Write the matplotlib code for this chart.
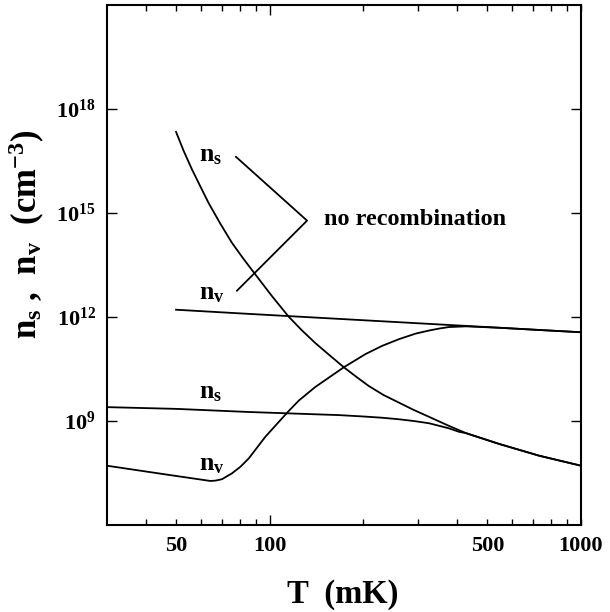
import numpy as np
import matplotlib
matplotlib.use("Agg")
import matplotlib.pyplot as plt
from matplotlib.ticker import NullLocator, FixedLocator

plt.rcParams['font.family'] = ['Liberation Serif', 'DejaVu Serif']
plt.rcParams['font.weight'] = 'bold'
plt.rcParams['mathtext.fontset'] = 'custom'
plt.rcParams['mathtext.rm'] = 'Liberation Serif:bold'
plt.rcParams['mathtext.it'] = 'Liberation Serif:bold'
plt.rcParams['mathtext.bf'] = 'Liberation Serif:bold'

# ---- data ----
# n_s, no recombination
T_ns_norec = [50, 52.9, 56.3, 59.9, 63.6, 69.4, 75.6, 82.3, 89.5, 101.5, 115, 126.7, 140,
              156, 173, 190, 208, 232, 260, 290, 325, 372, 427, 545, 733, 1000]
log_ns_norec = [17.34, 16.79, 16.25, 15.76, 15.29, 14.69, 14.14, 13.68, 13.25, 12.61, 12.01,
                11.62, 11.25, 10.89, 10.55, 10.27, 10.01, 9.75, 9.53, 9.32, 9.12, 8.88,
                8.65, 8.34, 8.00, 7.71]
# n_v, no recombination
T_nv_norec = [50, 85.6, 260, 1000]
log_nv_norec = [12.21, 12.09, 11.85, 11.56]
# n_s, with recombination
T_ns_rec = [30, 50, 85.6, 115, 167, 200, 229, 260, 290, 325, 376, 405, 427, 545, 733, 1000]
log_ns_rec = [9.40, 9.35, 9.26, 9.22, 9.17, 9.13, 9.095, 9.05, 9.00, 8.935, 8.79, 8.69,
              8.65, 8.34, 8.00, 7.71]
# n_v, with recombination
T_nv_rec = [30, 46.2, 64.5, 66.9, 70.2, 75.6, 80.5, 85.6, 96.9, 114, 124, 140, 173, 203,
            230, 260, 294, 325, 352, 376, 427, 545, 733, 1000]
log_nv_rec = [7.71, 7.46, 7.27, 7.28, 7.32, 7.49, 7.68, 7.92, 8.55, 9.25, 9.59, 9.98, 10.55,
              10.93, 11.17, 11.36, 11.52, 11.61, 11.67, 11.71, 11.73, 11.69, 11.625, 11.56]
# bracket for "no recombination"
T_bracket = [77.9, 131.8, 78.5]
log_bracket = [16.62, 14.78, 12.76]

x_tick_vals = [50, 100, 500, 1000]
x_tick_labels = ['50', '100', '500', '1000']
x_minor_vals = [40, 60, 70, 80, 90, 200, 300, 400, 600, 700, 800, 900]
y_tick_exps = [9, 12, 15, 18]

fig = plt.figure(figsize=(6.10, 6.12), dpi=100)
ax = fig.add_axes([107/610, 1-525/612, (581-107)/610, 520/612])

lw = 1.3
for T, lg in [(T_ns_norec, log_ns_norec), (T_nv_norec, log_nv_norec),
              (T_ns_rec, log_ns_rec), (T_nv_rec, log_nv_rec), (T_bracket, log_bracket)]:
    ax.plot(T, 10.0**np.array(lg), color='black', lw=lw, solid_joinstyle='round')

ax.set_xscale('log')
ax.set_yscale('log')
ax.set_xlim(30, 1000)
ax.set_ylim(1e6, 1e21)

ax.xaxis.set_major_locator(FixedLocator(x_tick_vals))
ax.set_xticklabels(x_tick_labels)
ax.xaxis.set_minor_locator(FixedLocator(x_minor_vals))
ax.yaxis.set_major_locator(FixedLocator([10.0**e for e in y_tick_exps]))
ax.set_yticklabels([r'$\mathbf{10^{%d}}$' % e for e in y_tick_exps])
ax.yaxis.set_minor_locator(NullLocator())

ax.tick_params(which='both', direction='in', top=True, right=True, width=1.0,
               labelsize=16, pad=8)
ax.tick_params(axis='x', which='major', length=4)
ax.tick_params(axis='x', which='minor', length=4)
ax.tick_params(axis='y', which='major', length=7)
for t in ax.xaxis.get_major_ticks():
    if abs(t.get_loc() - 100) < 1e-6:
        t.tick1line.set_markersize(7)
        t.tick2line.set_markersize(7)
for lab in ax.get_xticklabels() + ax.get_yticklabels():
    lab.set_fontweight('bold')
for s in ax.spines.values():
    s.set_linewidth(1.5)

fs_lab = 18.5
ax.text(59.1, 10**16.48, r'n$_\mathrm{s}$', fontsize=fs_lab, fontweight='bold', va='baseline', ha='left')
ax.text(59.1, 10**12.50, r'n$_\mathrm{v}$', fontsize=fs_lab, fontweight='bold', va='baseline', ha='left')
ax.text(59.1, 10**9.66, r'n$_\mathrm{s}$', fontsize=fs_lab, fontweight='bold', va='baseline', ha='left')
ax.text(59.1, 10**7.58, r'n$_\mathrm{v}$', fontsize=fs_lab, fontweight='bold', va='baseline', ha='left')
ax.text(149.1, 10**14.66, 'no recombination', fontsize=17.5, fontweight='bold', va='baseline', ha='left')

fig.text(343/610, 1-595/612, 'T  (mK)', fontsize=23.5, fontweight='bold', ha='center', va='center')
fig.text(27/610, 1-234/612, r'n$_\mathrm{s}$ ,  n$_\mathrm{v}$  (cm$^{-3}$)', fontsize=25,
         fontweight='bold', ha='center', va='center', rotation=90)

fig.savefig('out.png', dpi=100)
